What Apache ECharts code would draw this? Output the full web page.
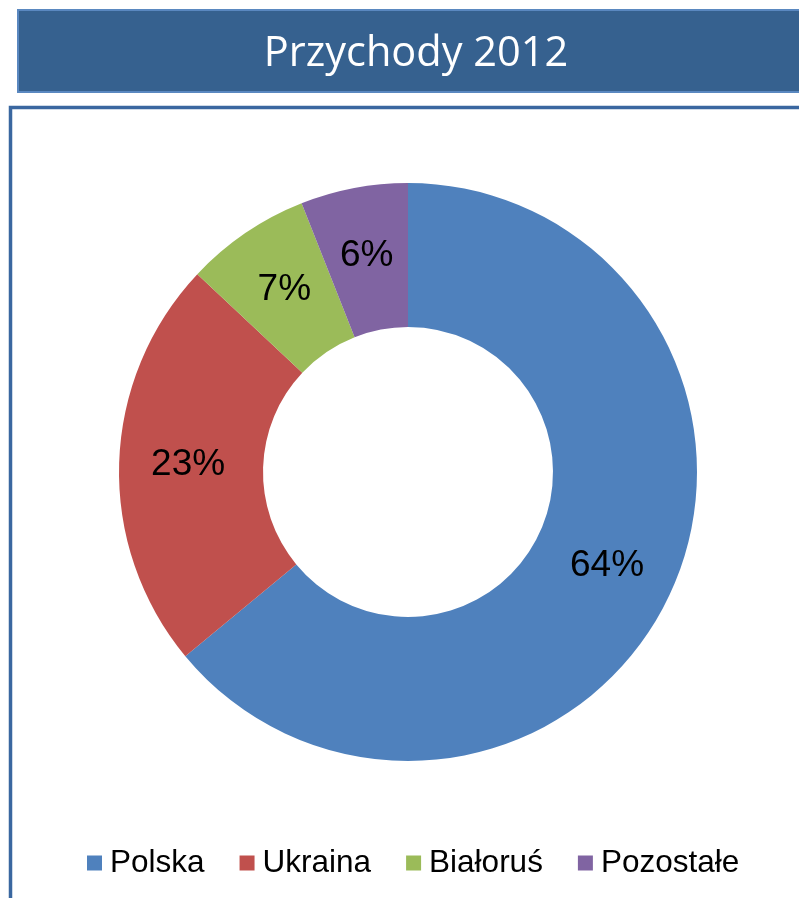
<!DOCTYPE html>
<html>
<head>
<meta charset="utf-8">
<script src="https://cdn.jsdelivr.net/npm/echarts@6/dist/echarts.min.js"></script>
<style>
html,body{margin:0;padding:0;background:#fff;}
#chart{width:799px;height:898px;}
</style>
</head>
<body>
<div id="chart"></div>
<script>
var titleText = 'Przychody 2012';
var categories = ['Polska', 'Ukraina', 'Białoruś', 'Pozostałe'];
var values = [64, 23, 7, 6];
var colors = ['#4f81bd', '#c0504d', '#9bbb59', '#8064a2'];

var chart = echarts.init(document.getElementById('chart'));
var option = {
  backgroundColor: '#ffffff',
  animation: false,
  color: colors,
  title: {
    text: titleText,
    left: 411,
    top: 28,
    textAlign: 'center',
    textStyle: {
      color: '#ffffff',
      fontFamily: 'Open Sans',
      fontWeight: 'normal',
      fontSize: 41.5
    },
    z: 10
  },
  graphic: [
    {
      type: 'rect',
      shape: { x: 18, y: 10, width: 800, height: 82 },
      style: { fill: '#36618f', stroke: '#5a88c0', lineWidth: 2 },
      z: 0
    },
    {
      type: 'rect',
      shape: { x: 10.5, y: 107.5, width: 900, height: 900 },
      style: { fill: 'none', stroke: '#3a67a0', lineWidth: 3.5 },
      z: 0
    }
  ],
  legend: {
    data: categories,
    left: 82,
    top: 842,
    icon: 'rect',
    itemWidth: 15,
    itemHeight: 15,
    itemGap: 35,
    textStyle: {
      fontFamily: 'Liberation Sans, Arial',
      fontSize: 31.5,
      color: '#000000',
      padding: [0, 0, 0, 3]
    }
  },
  series: [
    {
      type: 'pie',
      center: [408, 472],
      radius: [145, 289],
      startAngle: 90,
      clockwise: true,
      avoidLabelOverlap: false,
      label: {
        show: true,
        position: 'inside',
        formatter: '{d}%',
        fontFamily: 'Liberation Sans, Arial',
        fontSize: 37,
        color: '#000000'
      },
      labelLine: { show: false },
      emphasis: { disabled: true },
      data: categories.map(function (c, i) { return { name: c, value: values[i] }; })
    }
  ]
};
chart.setOption(option);
</script>
</body>
</html>
